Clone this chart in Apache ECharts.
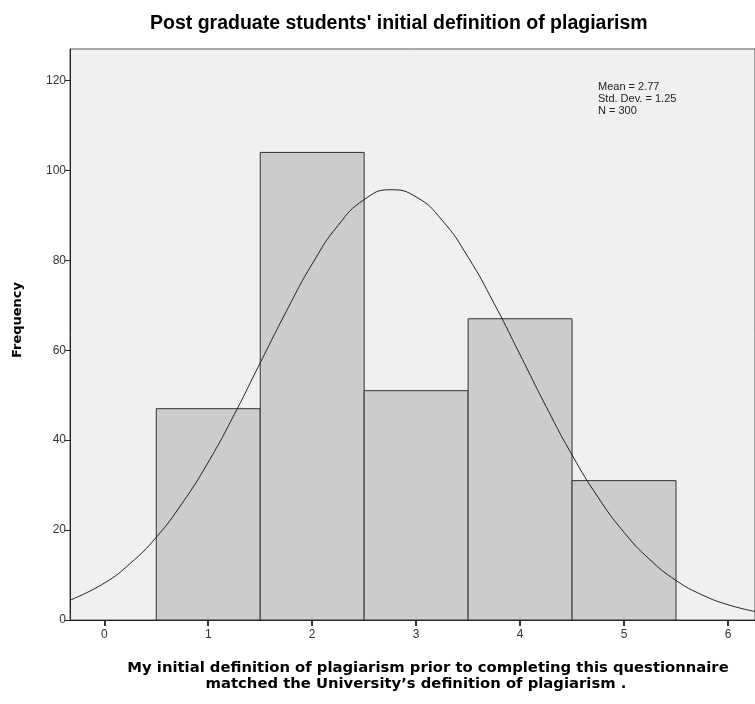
<!DOCTYPE html>
<html>
<head>
<meta charset="utf-8">
<script src="https://cdn.jsdelivr.net/npm/echarts@6/dist/echarts.min.js"></script>
<style>
  html, body { margin: 0; padding: 0; background: #fff; }
  #main { width: 755px; height: 704px; }
</style>
</head>
<body>
<div id="main"></div>
<script>
// histogram bins (response score) and their counts
var binCenters = [1, 2, 3, 4, 5];
var binCounts = [47, 104, 51, 67, 31];
// fitted normal curve
var curveX = [-0.33, 0, 0.25, 0.5, 0.75, 1, 1.25, 1.5, 1.75, 2, 2.25, 2.5, 2.75, 3, 3.25, 3.5, 3.75, 4, 4.25, 4.5, 4.75, 5, 5.25, 5.5, 5.75, 6, 6.26];
var curveY = [4.4, 8.2, 12.6, 18.4, 26.0, 35.1, 45.7, 57.2, 68.6, 79.2, 87.8, 93.5, 95.7, 94.1, 88.9, 80.7, 70.4, 59.0, 47.5, 36.7, 27.3, 19.5, 13.4, 8.8, 5.6, 3.4, 1.9];
var xTicks = [0, 1, 2, 3, 4, 5, 6];
var yTicks = [0, 20, 40, 60, 80, 100, 120];
var statLines = ['Mean = 2.77', 'Std. Dev. = 1.25', 'N = 300'];

var myChart = echarts.init(document.getElementById('main'));

var barData = binCenters.map(function (c, i) { return [c, binCounts[i]]; });
var curveData = curveX.map(function (x, i) { return [x, curveY[i]]; });

var lblFont = '"Liberation Sans", Arial, sans-serif';
var nameFont = 'bold 14.8px "DejaVu Sans"';

myChart.setOption({
  backgroundColor: '#fff',
  animation: false,
  title: {
    text: "Post graduate students' initial definition of plagiarism",
    left: 145,
    top: 9,
    textStyle: { fontFamily: lblFont, fontSize: 19.5, fontWeight: 'bold', color: '#000' }
  },
  grid: {
    left: 70, top: 49, right: 0, bottom: 84,
    show: true, backgroundColor: '#f0f0f0', borderColor: '#555', borderWidth: 1
  },
  xAxis: {
    type: 'value',
    min: -0.33, max: 6.26,
    axisLine: { show: true, onZero: false, lineStyle: { color: '#222' } },
    axisTick: { show: true, length: 6, customValues: xTicks, lineStyle: { color: '#333', width: 2 } },
    splitLine: { show: false },
    axisLabel: {
      fontFamily: lblFont, fontSize: 12, color: '#333', margin: 9,
      customValues: xTicks
    }
  },
  yAxis: {
    type: 'value',
    min: 0, max: 127,
    axisLine: { show: true, onZero: false, lineStyle: { color: '#222' } },
    axisTick: { show: true, length: 5, customValues: yTicks, lineStyle: { color: '#222' } },
    splitLine: { show: false },
    axisLabel: {
      fontFamily: lblFont, fontSize: 12, color: '#333', margin: 4,
      customValues: yTicks
    }
  },
  graphic: [{
    type: 'text',
    left: 598, top: 81,
    style: {
      text: statLines.join('\n'),
      font: '11px ' + lblFont,
      fill: '#222',
      lineHeight: 12
    }
  }, {
    type: 'text',
    x: 18, y: 320,
    rotation: Math.PI / 2,
    style: {
      text: 'Frequency',
      font: 'bold 13px "DejaVu Sans"',
      fill: '#000', align: 'center', verticalAlign: 'middle'
    }
  }, {
    type: 'text',
    x: 428, y: 668,
    style: {
      text: 'My initial definition of plagiarism prior to completing this questionnaire',
      font: nameFont, fill: '#000', align: 'center', verticalAlign: 'middle'
    }
  }, {
    type: 'text',
    x: 416, y: 684,
    style: {
      text: 'matched the University\u2019s definition of plagiarism .',
      font: nameFont, fill: '#000', align: 'center', verticalAlign: 'middle'
    }
  }],
  series: [
    {
      type: 'custom',
      data: barData,
      renderItem: function (params, api) {
        var c = api.value(0), v = api.value(1);
        var p1 = api.coord([c - 0.5, v]);
        var p2 = api.coord([c + 0.5, 0]);
        return {
          type: 'rect',
          shape: { x: p1[0], y: p1[1], width: p2[0] - p1[0], height: p2[1] - p1[1] },
          style: { fill: '#cccccc', stroke: '#333', lineWidth: 1 }
        };
      },
      z: 2
    },
    {
      type: 'line',
      data: curveData,
      smooth: true,
      symbol: 'none',
      lineStyle: { color: '#222', width: 1 },
      z: 3
    }
  ]
});
</script>
</body>
</html>
